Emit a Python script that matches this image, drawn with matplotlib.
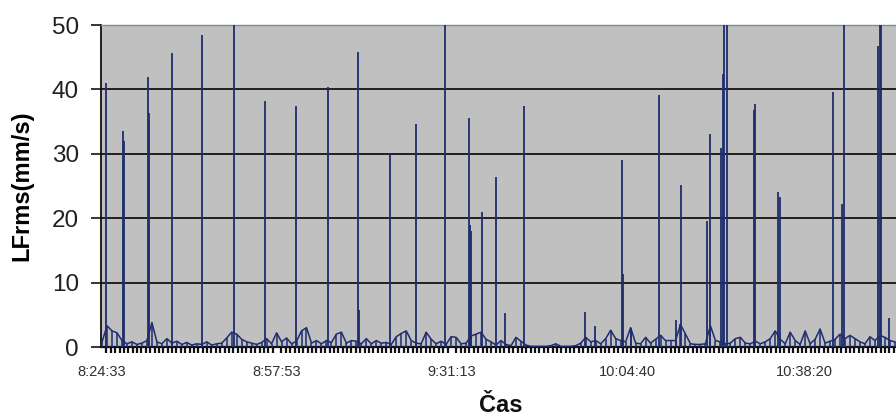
import numpy as np
import matplotlib
matplotlib.use("Agg")
import matplotlib.pyplot as plt
from matplotlib.ticker import FixedLocator, MultipleLocator

# ---- data (seconds after 8:24:33) ----
start_label = "8:24:33"
tick_seconds = [0, 2000, 4000, 6007, 8027]
tick_labels = ["8:24:33", "8:57:53", "9:31:13", "10:04:40", "10:38:20"]

# background level, sampled every 57 s
base_step = 57
base_vals = [
    0.8, 3.3, 2.5, 2.2, 1.0, 0.5, 0.8, 0.4, 0.6, 1.0,
    3.8, 0.8, 0.5, 1.3, 0.6, 0.9, 0.4, 0.7, 0.3, 0.5,
    0.4, 0.8, 0.3, 0.5, 0.6, 1.4, 2.3, 2.0, 1.2, 0.8,
    0.6, 0.4, 0.7, 1.3, 0.5, 2.2, 0.8, 1.4, 0.5, 0.9,
    2.5, 3.0, 0.6, 1.0, 0.5, 1.0, 0.7, 2.0, 2.3, 0.6,
    1.0, 0.9, 0.5, 1.3, 0.5, 1.0, 0.6, 0.7, 0.4, 1.6,
    2.1, 2.5, 1.0, 0.6, 0.5, 2.3, 1.2, 0.5, 0.9, 0.4,
    1.6, 1.5, 0.5, 0.6, 1.7, 2.0, 2.3, 1.2, 0.8, 0.3,
    1.0, 0.4, 0.2, 1.5, 0.9, 0.3, 0.1, 0.1, 0.1, 0.1,
    0.2, 0.5, 0.1, 0.1, 0.1, 0.2, 0.6, 1.5, 0.8, 1.0,
    0.5, 1.3, 2.6, 1.3, 1.0, 0.8, 3.0, 0.6, 0.5, 1.5,
    0.6, 1.2, 1.8, 1.0, 1.0, 1.0, 3.5, 2.0, 0.5, 0.4,
    0.4, 0.5, 3.3, 1.0, 0.8, 0.5, 0.6, 1.3, 1.5, 0.6,
    0.5, 0.9, 0.5, 0.8, 1.3, 2.5, 1.2, 0.5, 2.3, 1.0,
    0.4, 2.5, 0.5, 1.2, 2.8, 0.6, 0.9, 1.2, 2.0, 1.3,
    1.8, 1.3, 0.8, 0.5, 1.6, 1.0, 1.8, 1.5, 1.0, 0.8,
]

# peaks: time (s after start) and value (mm/s)
spike_t = [42, 237, 248, 529, 541, 800, 1140, 1505, 1860, 2217,
           2580, 2923, 2934, 3288, 3589, 3920, 4195, 4210, 4218, 4343,
           4500, 4603, 4823, 5524, 5631, 5940, 5955, 6043, 6370, 6557,
           6618, 6919, 6949, 7072, 7095, 7113, 7140, 7449, 7464, 7727,
           7750, 8355, 8458, 8478, 8873, 8889, 8904, 8992]
spike_v = [41.0, 33.5, 32.0, 42.0, 36.3, 45.7, 48.4, 55.0, 38.2, 37.4,
           40.4, 45.8, 5.7, 29.9, 34.6, 55.0, 35.5, 19.0, 18.0, 20.9,
           26.4, 5.3, 37.4, 5.5, 3.3, 29.0, 11.3, 3.0, 39.2, 4.2,
           25.2, 19.5, 33.1, 30.9, 42.4, 55.0, 55.0, 36.8, 37.8, 24.1,
           23.3, 39.6, 22.2, 55.0, 46.7, 55.0, 55.0, 4.5]

base_t = np.arange(len(base_vals)) * base_step

# ---- figure ----
plt.rcParams['font.family'] = ['Liberation Sans', 'DejaVu Sans']
fig = plt.figure(figsize=(8.96, 4.16), dpi=100)
fig.patch.set_facecolor('white')
ax = fig.add_axes([101/896, 1 - 347/416, 1 - 101/896, (347 - 25)/416])
ax.set_facecolor('#c0c0c0')

line_color = '#1e2d6e'
for y in [10, 20, 30, 40]:
    ax.axhline(y, color='#1a1010', lw=1.3, zorder=1)

ax.plot(base_t, base_vals, color=line_color, lw=1.1, zorder=3)
ax.vlines(base_t, 0, base_vals, color=line_color, lw=1.1, zorder=3)
ax.vlines(spike_t, 0, spike_v, color=line_color, lw=1.3, zorder=3)

ax.set_xlim(-12, (896 - 102) * 11.43)
ax.set_ylim(0, 50)

ax.set_yticks([0, 10, 20, 30, 40, 50])
ax.set_yticklabels(['0', '10', '20', '30', '40', '50'], fontsize=17.5, color='#202020')
ax.tick_params(axis='y', direction='out', length=7, width=1.2, color='#1a1010', pad=9)

ax.xaxis.set_major_locator(FixedLocator(tick_seconds))
ax.set_xticklabels(tick_labels, fontsize=10.5, color='#303030')
ax.xaxis.set_minor_locator(MultipleLocator(50))
ax.tick_params(axis='x', which='major', length=0, pad=13)
ax.tick_params(axis='x', which='minor', direction='out', length=4, width=1.6, color='#101010')

ax.spines['right'].set_visible(False)
ax.spines['top'].set_color('#7f8c96')
ax.spines['top'].set_linewidth(1.0)
ax.spines['left'].set_color('#101010')
ax.spines['left'].set_linewidth(1.3)
ax.spines['bottom'].set_color('#101010')
ax.spines['bottom'].set_linewidth(1.6)

ax.set_ylabel('LFrms(mm/s)', fontsize=17, fontweight='bold')
ax.yaxis.set_label_coords(-0.0855, 0.5)
fig.text(501/896, 1 - 406/416, 'Čas', fontsize=17, fontweight='bold',
         ha='center', va='center', color='#101010')

fig.savefig('out.png', dpi=100, facecolor='white')
